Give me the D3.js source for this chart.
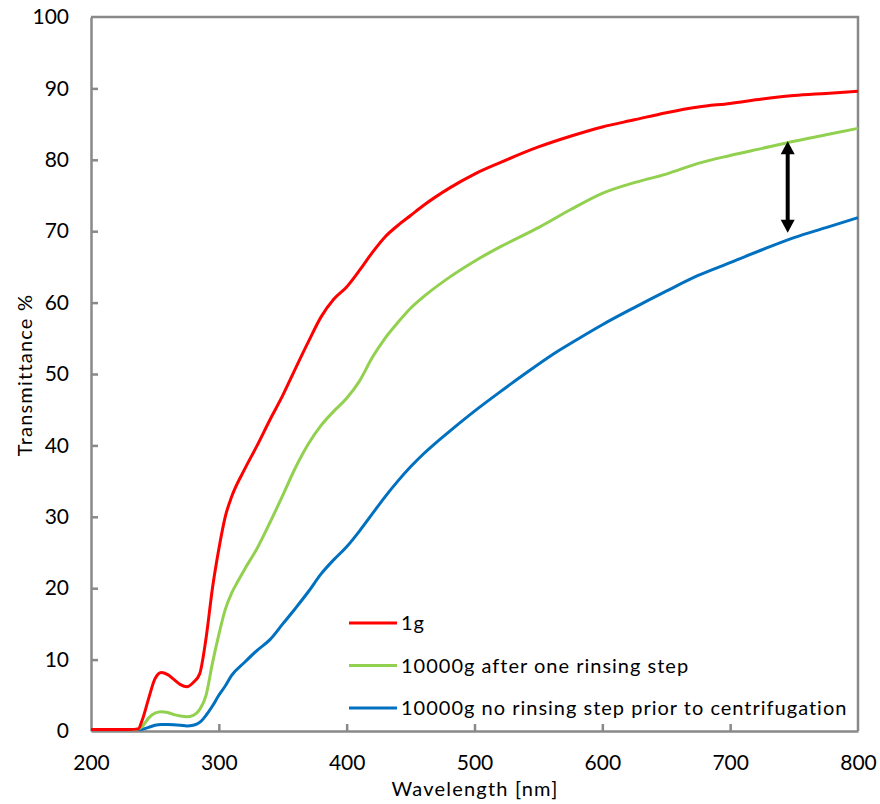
<!DOCTYPE html>
<html>
<head>
<meta charset="utf-8">
<script src="https://cdn.jsdelivr.net/npm/d3@7"></script>
<style>
  body { margin: 0; background: #fff; }
  text { font-family: Lato, "Open Sans", sans-serif; fill: #000; }
</style>
</head>
<body>
<svg id="chart" width="880" height="804"></svg>
<script>
// wavelength (nm) and transmittance (%)
const wl1g = [200, 230, 237, 240, 245, 250, 255, 260, 265, 270, 275, 280, 285, 290, 295, 300, 305, 310, 320, 330, 340, 350, 360, 370, 380, 390, 400, 410, 420, 430, 440, 450, 460, 480, 500, 520, 550, 575, 600, 625, 650, 675, 700, 725, 750, 775, 800];
const t1g = [0.2, 0.2, 0.3, 1.5, 4.5, 7.3, 8.2, 7.9, 7.2, 6.5, 6.2, 6.8, 8.0, 13, 20, 25.5, 30, 32.8, 36.6, 40, 43.6, 47, 50.8, 54.5, 58, 60.5, 62.2, 64.5, 67, 69.2, 70.8, 72.2, 73.6, 76, 78, 79.6, 81.8, 83.3, 84.6, 85.6, 86.6, 87.4, 87.9, 88.5, 89, 89.3, 89.6];

const wlRinse = [200, 235, 240, 245, 250, 255, 260, 265, 270, 275, 280, 285, 290, 295, 300, 305, 310, 315, 320, 330, 340, 350, 360, 370, 380, 390, 400, 410, 420, 430, 440, 450, 460, 480, 500, 520, 550, 575, 600, 625, 650, 675, 700, 725, 750, 775, 800];
const tRinse = [0.2, 0.2, 0.6, 1.8, 2.5, 2.7, 2.6, 2.3, 2.1, 2.0, 2.2, 3.0, 5.0, 9.5, 13.5, 17, 19.3, 21, 22.6, 25.6, 29.2, 33, 36.9, 40.2, 42.8, 44.8, 46.6, 49, 52.3, 55, 57.2, 59.2, 60.8, 63.5, 65.8, 67.8, 70.5, 73, 75.3, 76.8, 78, 79.5, 80.6, 81.6, 82.6, 83.5, 84.4];

const wlNoRinse = [200, 238, 245, 250, 255, 260, 270, 275, 280, 285, 290, 295, 300, 305, 310, 320, 330, 340, 350, 360, 370, 380, 390, 400, 410, 420, 430, 440, 450, 460, 470, 480, 500, 520, 540, 560, 580, 600, 625, 650, 675, 700, 725, 750, 775, 800];
const tNoRinse = [0.2, 0.2, 0.5, 0.8, 0.9, 0.9, 0.8, 0.7, 0.8, 1.2, 2.2, 3.5, 5, 6.3, 7.8, 9.6, 11.3, 12.8, 15, 17.2, 19.5, 22, 24, 25.8, 28, 30.4, 32.8, 35, 37, 38.8, 40.4, 41.9, 44.8, 47.5, 50.1, 52.6, 54.8, 56.9, 59.3, 61.6, 63.8, 65.6, 67.4, 69.1, 70.5, 71.9];

const seriesNames = ["1g", "10000g after one rinsing step", "10000g no rinsing step prior to centrifugation"];
const seriesColors = ["#ff0000", "#92d050", "#0070c0"];

const xTicks = [200, 300, 400, 500, 600, 700, 800];
const yTicks = [0, 10, 20, 30, 40, 50, 60, 70, 80, 90, 100];

// double arrow between the rinsed and unrinsed curves
const arrowWl = 745;
const arrowFrom = 82.6;
const arrowTo = 69.8;

const svg = d3.select("#chart");
const plotLeft = 91, plotRight = 858, plotTop = 17, plotBottom = 731;
const axisColor = "#898989";

const x = d3.scaleLinear().domain([200, 800]).range([plotLeft, plotRight]);
const y = d3.scaleLinear().domain([0, 100]).range([plotBottom, plotTop]);

// frame (top and right sides)
svg.append("path")
  .attr("d", `M${plotLeft},${plotTop}H${plotRight}V${plotBottom}`)
  .attr("fill", "none")
  .attr("stroke", axisColor)
  .attr("stroke-width", 2.5);

const xAxis = svg.append("g")
  .attr("transform", `translate(0,${plotBottom})`)
  .call(d3.axisBottom(x).tickValues(xTicks).tickSizeInner(-7).tickSizeOuter(0).tickPadding(24));
const yAxis = svg.append("g")
  .attr("transform", `translate(${plotLeft},0)`)
  .call(d3.axisLeft(y).tickValues(yTicks).tickSizeInner(-7).tickSizeOuter(0).tickPadding(22));

[xAxis, yAxis].forEach(g => {
  g.select(".domain").attr("stroke", axisColor).attr("stroke-width", 2.5);
  g.selectAll(".tick line").attr("stroke", axisColor).attr("stroke-width", 2.5);
  g.selectAll(".tick text").style("font-size", "21px").attr("fill", "#000");
});
yAxis.selectAll(".tick").filter(d => d === 0 || d === 100).select("line").remove();
xAxis.selectAll(".tick").filter(d => d === 200 || d === 800).select("line").remove();

svg.append("text")
  .attr("x", 475)
  .attr("y", 796)
  .attr("text-anchor", "middle")
  .style("font-size", "20px")
  .style("letter-spacing", "1.2px")
  .text("Wavelength [nm]");

svg.append("text")
  .attr("transform", `translate(32,375) rotate(-90)`)
  .attr("text-anchor", "middle")
  .style("font-size", "20px")
  .style("letter-spacing", "1.2px")
  .text("Transmittance %");

const line = d3.line()
  .x(d => x(d[0]))
  .y(d => y(d[1]))
  .curve(d3.curveMonotoneX);

const series = [
  d3.zip(wl1g, t1g),
  d3.zip(wlRinse, tRinse),
  d3.zip(wlNoRinse, tNoRinse)
];

// draw blue first so red sits on top, like the original
[2, 1, 0].forEach(i => {
  svg.append("path")
    .datum(series[i])
    .attr("fill", "none")
    .attr("stroke", seriesColors[i])
    .attr("stroke-width", 3)
    .attr("stroke-linejoin", "round")
    .attr("d", line);
});

// arrow
const ax = x(arrowWl), a1 = y(arrowFrom), a2 = y(arrowTo);
const head = 13, hw = 7;
svg.append("line")
  .attr("x1", ax).attr("x2", ax)
  .attr("y1", a1 + head - 2).attr("y2", a2 - head + 2)
  .attr("stroke", "#000")
  .attr("stroke-width", 4);
svg.append("path")
  .attr("d", `M${ax},${a1}L${ax - hw},${a1 + head}L${ax + hw},${a1 + head}Z`)
  .attr("fill", "#000");
svg.append("path")
  .attr("d", `M${ax},${a2}L${ax - hw},${a2 - head}L${ax + hw},${a2 - head}Z`)
  .attr("fill", "#000");

// legend
const legend = svg.append("g");
seriesNames.forEach((name, i) => {
  const ly = 623 + i * 42.5;
  legend.append("line")
    .attr("x1", 349).attr("x2", 397)
    .attr("y1", ly).attr("y2", ly)
    .attr("stroke", seriesColors[i])
    .attr("stroke-width", 3);
  legend.append("text")
    .attr("x", 401)
    .attr("y", ly)
    .attr("dy", "0.35em")
    .style("font-size", "20px")
    .style("letter-spacing", "1px")
    .text(name);
});
</script>
</body>
</html>
